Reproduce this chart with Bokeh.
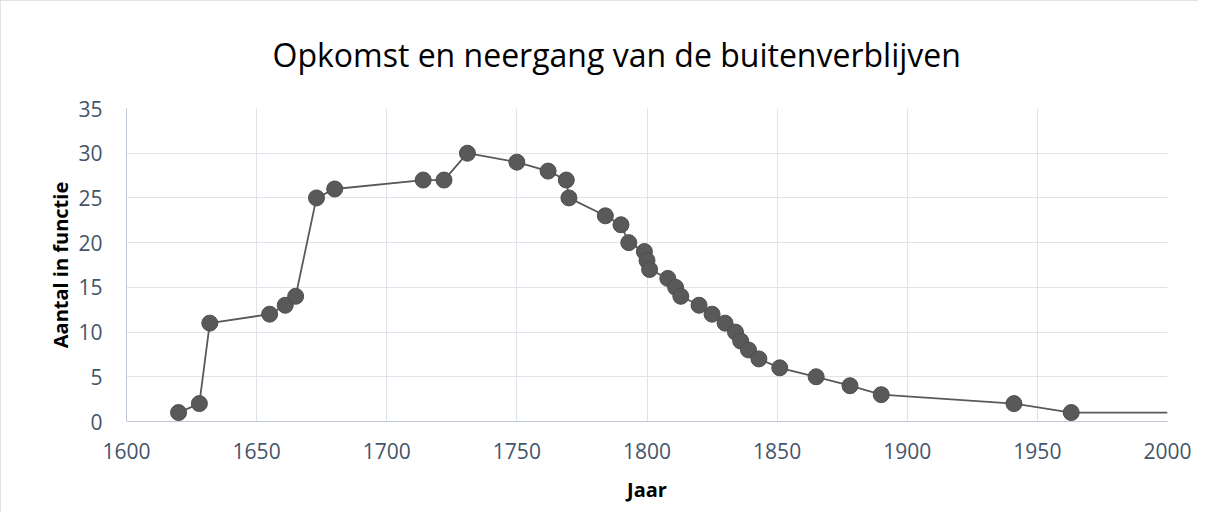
from bokeh.plotting import figure
from bokeh.models import FixedTicker, Range1d, Title
from bokeh.embed import file_html
from bokeh.resources import INLINE

years = [1620, 1628, 1632, 1655, 1661, 1665, 1673, 1680, 1714, 1722, 1731, 1750,
         1762, 1769, 1770, 1784, 1790, 1793, 1799, 1800, 1801, 1808, 1811, 1813,
         1820, 1825, 1830, 1834, 1836, 1839, 1843, 1851, 1865, 1878, 1890, 1941, 1963]
counts = [1, 2, 11, 12, 13, 14, 25, 26, 27, 27, 30, 29,
          28, 27, 25, 23, 22, 20, 19, 18, 17, 16, 15, 14,
          13, 12, 11, 10, 9, 8, 7, 6, 5, 4, 3, 2, 1]
# line continues to the end of the axis without a marker
line_end_year = 2000
line_end_count = 1

x_ticks = list(range(1600, 2001, 50))
y_ticks = list(range(0, 36, 5))

title_text = "Opkomst en neergang van de buitenverblijven"
x_title = "Jaar"
y_title = "Aantal in functie"

FONT = "Open Sans"
TICK_COLOR = "#44546a"
GRID_COLOR = "#dfe3ea"
AXIS_COLOR = "#bfc8d8"
MARK_COLOR = "#595959"

p = figure(width=1198, height=512, output_backend="svg", toolbar_location=None,
           x_range=Range1d(1600, 2000), y_range=Range1d(0, 35),
           min_border_left=126, min_border_right=31, min_border_top=108,
           min_border_bottom=91)
p.outline_line_color = None
p.background_fill_color = "white"
p.border_fill_color = "white"
p.styles = {"outline": "1px solid #d9d9d9", "outline-offset": "-1px"}

for ax in (p.xaxis, p.yaxis):
    ax.axis_line_color = AXIS_COLOR
    ax.axis_line_width = 1
    ax.major_tick_line_color = None
    ax.minor_tick_line_color = None
    ax.major_label_text_color = TICK_COLOR
    ax.major_label_text_font = FONT
    ax.major_label_text_font_size = "21px"
    ax.axis_label_text_font = FONT
    ax.axis_label_text_font_style = "bold"
    ax.axis_label_text_font_size = "20px"
    ax.axis_label_text_color = "#000000"

p.xaxis.ticker = FixedTicker(ticks=x_ticks)
p.yaxis.ticker = FixedTicker(ticks=y_ticks)
p.xaxis.axis_label = x_title
p.yaxis.axis_label = y_title
p.xaxis.major_label_standoff = 15
p.yaxis.major_label_standoff = 18
p.xaxis.axis_label_standoff = 14
p.yaxis.axis_label_standoff = 1

p.xgrid.grid_line_color = GRID_COLOR
p.ygrid.grid_line_color = GRID_COLOR
p.xgrid.ticker = FixedTicker(ticks=x_ticks)
p.ygrid.ticker = FixedTicker(ticks=y_ticks)

p.line(years + [line_end_year], counts + [line_end_count], line_color=MARK_COLOR, line_width=1.8)
p.scatter(years, counts, size=16, fill_color=MARK_COLOR, line_color="#4f4f4f", line_width=1)

title = Title(text=title_text, align="left", offset=146, text_font=FONT,
              text_font_size="32px", text_font_style="normal", text_color="#000000",
              standoff=62, vertical_align="top")
p.add_layout(title, "above")

open("out.html", "w").write(file_html(p, INLINE))
